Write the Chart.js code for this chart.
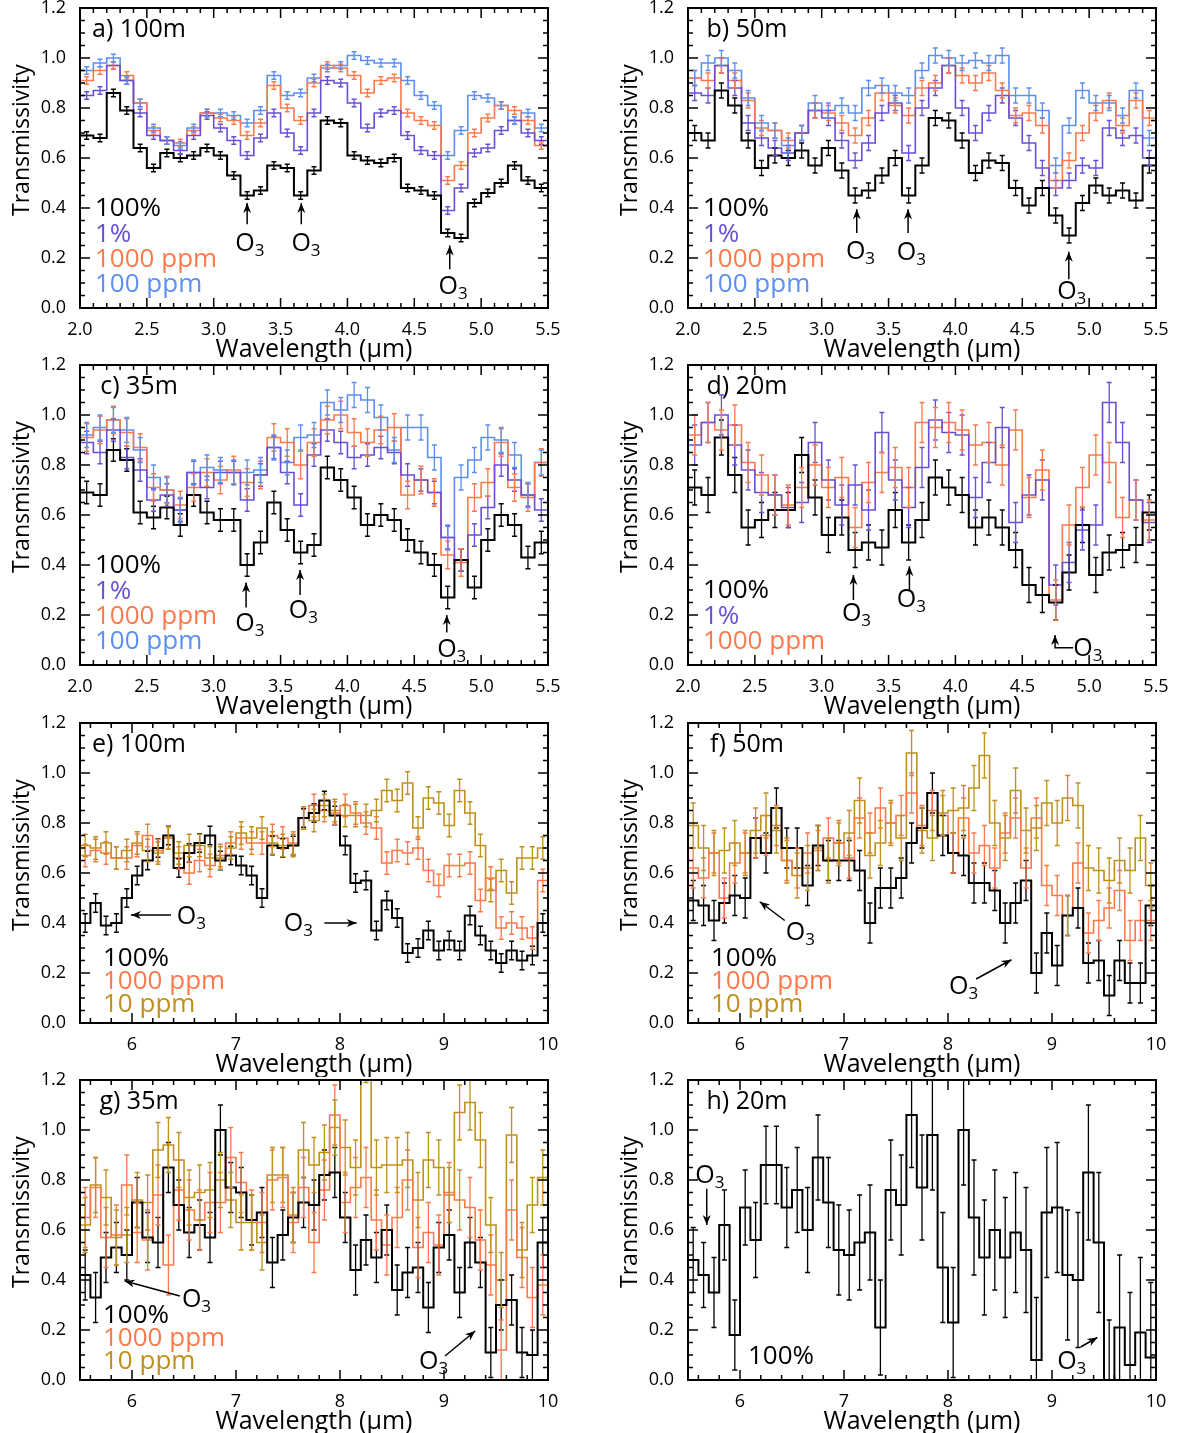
<!DOCTYPE html>
<html>
<head>
<meta charset="utf-8">
<script src="https://cdn.jsdelivr.net/npm/chart.js@4.4.0/dist/chart.umd.min.js"></script>
<style>
html, body { margin: 0; padding: 0; background: #fff; overflow: hidden; }
#page { position: relative; width: 1178px; height: 1433px; overflow: hidden; }
#page canvas { position: absolute; }
</style>
</head>
<body>
<div id="page"></div>
<script>
// bin centres (micron)
var wlShort = [2.05,2.15,2.25,2.35,2.45,2.55,2.65,2.75,2.85,2.95,3.05,3.15,3.25,3.35,3.45,3.55,3.65,3.75,3.85,3.95,
               4.05,4.15,4.25,4.35,4.45,4.55,4.65,4.75,4.85,4.95,5.05,5.15,5.25,5.35,5.45];
var wlLong = [5.55,5.65,5.75,5.85,5.95,6.05,6.15,6.25,6.35,6.45,6.55,6.65,6.75,6.85,6.95,7.05,7.15,7.25,7.35,7.45,
              7.55,7.65,7.75,7.85,7.95,8.05,8.15,8.25,8.35,8.45,8.55,8.65,8.75,8.85,8.95,9.05,9.15,9.25,9.35,9.45,
              9.55,9.65,9.75,9.85,9.95];

var yTicks = [0, 0.2, 0.4, 0.6, 0.8, 1.0, 1.2];

// a) 100m
var a100pct = [0.69,0.68,0.86,0.79,0.64,0.56,0.62,0.60,0.61,0.64,0.61,0.53,0.45,0.47,0.57,0.56,0.45,0.55,0.75,0.74,
               0.61,0.59,0.58,0.60,0.48,0.47,0.45,0.30,0.28,0.42,0.46,0.50,0.57,0.51,0.48];
var a1pct = [0.85,0.87,0.97,0.91,0.78,0.69,0.67,0.63,0.69,0.77,0.72,0.67,0.61,0.68,0.78,0.70,0.63,0.78,0.91,0.90,
             0.82,0.72,0.78,0.79,0.69,0.63,0.61,0.39,0.48,0.62,0.64,0.71,0.75,0.70,0.67];
var a1000ppm = [0.91,0.95,0.97,0.93,0.82,0.71,0.67,0.66,0.71,0.78,0.76,0.75,0.69,0.74,0.89,0.80,0.75,0.90,0.97,0.96,
                0.93,0.86,0.91,0.92,0.78,0.75,0.73,0.51,0.57,0.70,0.76,0.81,0.79,0.75,0.65];
var a100ppm = [0.95,0.98,1.00,0.91,0.82,0.72,0.67,0.65,0.72,0.78,0.78,0.77,0.74,0.79,0.93,0.85,0.86,0.92,0.96,0.97,
               1.01,0.99,0.98,0.98,0.91,0.85,0.81,0.61,0.71,0.85,0.84,0.81,0.75,0.78,0.72];

// b) 50m
var b100pct = [0.70,0.67,0.87,0.81,0.67,0.56,0.61,0.60,0.63,0.57,0.64,0.55,0.45,0.47,0.53,0.60,0.45,0.57,0.76,0.75,
               0.67,0.54,0.59,0.58,0.48,0.41,0.48,0.37,0.29,0.42,0.49,0.45,0.47,0.43,0.57];
var b1pct = [0.86,0.85,0.97,0.88,0.74,0.68,0.64,0.62,0.70,0.79,0.76,0.67,0.59,0.66,0.78,0.82,0.62,0.80,0.88,0.97,
             0.80,0.70,0.78,0.85,0.76,0.66,0.56,0.48,0.51,0.57,0.56,0.72,0.68,0.69,0.60];
var b1000ppm = [0.92,0.91,0.97,0.91,0.83,0.72,0.71,0.67,0.70,0.79,0.78,0.74,0.69,0.76,0.86,0.81,0.77,0.88,0.90,0.97,
                0.93,0.90,0.94,0.87,0.77,0.78,0.73,0.51,0.59,0.70,0.78,0.83,0.73,0.83,0.76];
var b100ppm = [0.92,0.98,1.00,0.95,0.84,0.74,0.71,0.65,0.70,0.82,0.79,0.81,0.78,0.88,0.89,0.86,0.85,0.95,1.01,1.00,
               0.98,0.99,0.98,1.01,0.85,0.85,0.79,0.57,0.73,0.87,0.82,0.82,0.77,0.87,0.68];

// c) 35m
var c100pct = [0.69,0.68,0.86,0.82,0.61,0.59,0.63,0.56,0.68,0.61,0.58,0.58,0.40,0.49,0.65,0.54,0.45,0.48,0.79,0.74,
               0.67,0.56,0.60,0.58,0.50,0.45,0.40,0.27,0.42,0.31,0.50,0.60,0.56,0.43,0.49];
var c1pct = [0.89,0.85,0.94,0.83,0.78,0.66,0.68,0.62,0.77,0.71,0.77,0.77,0.66,0.76,0.87,0.77,0.64,0.84,0.94,0.89,
             0.83,0.84,0.87,0.85,0.76,0.74,0.69,0.51,0.42,0.52,0.63,0.80,0.74,0.68,0.62];
var c1000ppm = [0.91,0.94,0.98,0.93,0.87,0.71,0.70,0.64,0.71,0.77,0.74,0.78,0.73,0.76,0.91,0.89,0.80,0.89,0.98,1.00,
                0.93,0.89,0.94,0.95,0.68,0.74,0.69,0.44,0.41,0.67,0.73,0.89,0.71,0.67,0.81];
var c100ppm = [0.92,0.95,0.98,0.94,0.86,0.75,0.70,0.62,0.77,0.79,0.78,0.77,0.77,0.78,0.87,0.81,0.91,0.92,1.05,1.02,
               1.08,1.06,0.99,0.86,0.95,0.95,0.83,0.51,0.75,0.82,0.91,0.90,0.84,0.68,0.81];

// d) 20m
var d100pct = [0.71,0.68,0.91,0.76,0.55,0.58,0.62,0.62,0.84,0.67,0.52,0.59,0.46,0.49,0.47,0.62,0.49,0.58,0.75,0.71,
               0.68,0.55,0.59,0.55,0.46,0.32,0.28,0.25,0.37,0.56,0.36,0.45,0.46,0.48,0.61];
var d1pct = [0.88,0.97,1.00,0.88,0.78,0.69,0.68,0.63,0.65,0.89,0.74,0.64,0.72,0.62,0.93,0.74,0.63,0.79,0.98,0.93,
             0.92,0.67,0.81,0.95,0.57,0.68,0.74,0.32,0.41,0.54,0.56,1.05,0.89,0.66,0.57];
var d1000ppm = [0.92,0.97,0.94,0.96,0.81,0.76,0.68,0.64,0.71,0.80,0.71,0.75,0.55,0.73,0.77,0.79,0.71,0.97,0.95,0.97,
                0.94,0.88,0.89,0.80,0.94,0.67,0.78,0.26,0.56,0.71,0.84,0.81,0.59,0.66,0.58];

// e) 100m
var e100pct = [0.40,0.48,0.39,0.40,0.50,0.59,0.65,0.70,0.75,0.62,0.68,0.72,0.75,0.65,0.67,0.63,0.59,0.50,0.71,0.70,
               0.71,0.82,0.84,0.89,0.83,0.71,0.56,0.57,0.37,0.49,0.42,0.28,0.30,0.37,0.29,0.33,0.29,0.43,0.35,0.29,
               0.24,0.29,0.25,0.27,0.40];
var e1000ppm = [0.67,0.69,0.68,0.66,0.66,0.71,0.75,0.69,0.74,0.66,0.60,0.65,0.63,0.67,0.72,0.74,0.72,0.72,0.75,0.74,
                0.72,0.82,0.87,0.85,0.84,0.87,0.84,0.80,0.78,0.64,0.69,0.68,0.70,0.61,0.55,0.63,0.63,0.64,0.49,0.58,
                0.38,0.40,0.38,0.34,0.57];
var e10ppm = [0.71,0.70,0.72,0.66,0.69,0.72,0.69,0.68,0.74,0.68,0.71,0.71,0.66,0.66,0.70,0.76,0.74,0.78,0.72,0.71,
              0.71,0.82,0.81,0.87,0.85,0.83,0.83,0.83,0.85,0.93,0.89,0.96,0.78,0.90,0.88,0.79,0.93,0.84,0.71,0.53,
              0.61,0.52,0.66,0.66,0.70];

// f) 50m
var f100pct = [0.49,0.47,0.41,0.48,0.51,0.50,0.74,0.68,0.86,0.70,0.70,0.55,0.71,0.65,0.65,0.65,0.61,0.40,0.54,0.54,
               0.58,0.72,0.78,0.92,0.75,0.68,0.67,0.56,0.56,0.53,0.40,0.48,0.57,0.20,0.36,0.23,0.43,0.46,0.24,0.25,
               0.11,0.25,0.16,0.16,0.47];
var f1000ppm = [0.62,0.58,0.68,0.50,0.64,0.68,0.74,0.75,0.79,0.65,0.62,0.68,0.69,0.74,0.72,0.66,0.82,0.76,0.86,0.80,
                0.83,0.92,0.79,0.85,0.83,0.68,0.82,0.68,0.71,0.62,0.76,0.82,0.62,0.82,0.55,0.51,0.43,0.64,0.36,0.41,
                0.46,0.53,0.33,0.41,0.41];
var f10ppm = [0.79,0.70,0.68,0.69,0.72,0.68,0.77,0.83,0.77,0.65,0.59,0.62,0.70,0.65,0.72,0.76,0.89,0.67,0.72,0.80,
              0.74,1.08,0.77,0.74,0.84,0.85,0.86,0.94,1.07,0.80,0.74,0.93,0.77,0.78,0.88,0.80,0.90,0.87,0.62,0.61,
              0.57,0.65,0.61,0.74,0.55];

// g) 35m
var g100pct = [0.42,0.33,0.49,0.53,0.50,0.71,0.57,0.55,0.85,0.70,0.59,0.62,0.57,1.00,0.77,0.75,0.64,0.67,0.47,0.58,
               0.65,0.71,0.70,0.82,0.83,0.65,0.44,0.56,0.49,0.60,0.36,0.43,0.45,0.29,0.53,0.58,0.35,0.55,0.47,0.11,
               0.30,0.32,0.11,0.10,0.55];
var g1000ppm = [0.65,0.77,0.57,0.58,0.78,0.59,0.56,0.74,0.46,0.76,0.68,0.64,0.71,0.71,0.89,0.79,0.64,0.63,0.80,0.81,
                0.63,0.77,0.55,0.76,1.06,0.71,0.77,0.81,0.64,0.54,0.65,0.80,0.53,0.59,0.54,0.75,0.72,0.69,0.56,0.46,
                0.12,0.68,0.49,0.33,0.38];
var g10ppm = [0.62,0.78,0.73,0.57,0.58,0.72,0.71,0.92,0.94,0.88,0.73,0.75,0.76,0.80,0.72,0.63,0.63,0.55,0.82,0.82,
              0.66,0.92,0.86,0.91,1.01,0.93,0.85,1.30,0.85,0.86,0.86,0.88,0.72,0.88,0.85,0.74,1.07,1.11,0.96,0.62,
              0.40,0.98,0.52,0.70,0.81];

// h) 20m
var h100pct = [0.48,0.42,0.35,0.62,0.18,0.69,0.56,0.86,0.86,0.69,0.76,0.60,0.89,0.71,0.52,0.50,0.55,0.59,0.21,0.76,
               0.70,1.06,0.77,0.98,0.45,0.23,1.00,0.65,0.49,0.60,0.49,0.59,0.52,0.08,0.67,0.69,0.42,0.40,0.83,0.55,
               -0.04,0.21,0.06,0.19,0.09];
var h100pctErr = [0.13,0.13,0.14,0.14,0.14,0.15,0.15,0.155,0.155,0.16,0.17,0.17,0.17,0.18,0.18,0.18,0.19,0.19,0.19,0.20,
                  0.20,0.21,0.21,0.22,0.22,0.22,0.22,0.23,0.23,0.24,0.24,0.24,0.25,0.25,0.26,0.26,0.26,0.27,0.27,0.28,
                  0.28,0.29,0.29,0.30,0.30];

var COLORS = {
    black: '#000000',
    purple: '#6a4fd6',
    orange: '#fb7a4b',
    blue: '#5b8ff0',
    gold: '#c0901c'
};

var FONT = '"Open Sans", "Noto Sans", sans-serif';
var CANVAS_H = 362;

var legendShort = ['100%', '1%', '1000 ppm', '100 ppm'];
var legendLong = ['100%', '1000 ppm', '10 ppm'];

var panels = [
    {
        canvasId: 'panelA', left: 0, top: 0, width: 589, padRight: 41,
        label: 'a) 100m', wl: wlShort, xRange: [2, 5.5], xStep: 0.5, xMinor: 0.1, xDigits: 1,
        series: [
            {values: a100pct, color: 'black', err: 0.015},
            {values: a1pct, color: 'purple', err: 0.015},
            {values: a1000ppm, color: 'orange', err: 0.015},
            {values: a100ppm, color: 'blue', err: 0.015}
        ],
        legend: {labels: legendShort, colors: ['black', 'purple', 'orange', 'blue'], x: 15, y: 201, dy: 25.3},
        o3: [
            {at: [3.27, 0.255], path: [[3.25, 0.335], [3.25, 0.42]]},
            {at: [3.69, 0.255], path: [[3.655, 0.335], [3.655, 0.42]]},
            {at: [4.79, 0.085], path: [[4.765, 0.155], [4.765, 0.25]]}
        ]
    },
    {
        canvasId: 'panelB', left: 608, top: 0, width: 570, padRight: 22,
        label: 'b) 50m', wl: wlShort, xRange: [2, 5.5], xStep: 0.5, xMinor: 0.1, xDigits: 1,
        series: [
            {values: b100pct, color: 'black', err: 0.03},
            {values: b1pct, color: 'purple', err: 0.03},
            {values: b1000ppm, color: 'orange', err: 0.03},
            {values: b100ppm, color: 'blue', err: 0.03}
        ],
        legend: {labels: legendShort, colors: ['black', 'purple', 'orange', 'blue'], x: 15, y: 201, dy: 25.3},
        o3: [
            {at: [3.29, 0.225], path: [[3.262, 0.3], [3.262, 0.395]]},
            {at: [3.67, 0.22], path: [[3.646, 0.3], [3.646, 0.395]]},
            {at: [4.87, 0.065], path: [[4.848, 0.115], [4.848, 0.225]]}
        ]
    },
    {
        canvasId: 'panelC', left: 0, top: 357, width: 589, padRight: 41,
        label: 'c) 35m', wl: wlShort, xRange: [2, 5.5], xStep: 0.5, xMinor: 0.1, xDigits: 1,
        series: [
            {values: c100pct, color: 'black', err: 0.045},
            {values: c1pct, color: 'purple', err: 0.045},
            {values: c1000ppm, color: 'orange', err: 0.055},
            {values: c100ppm, color: 'blue', err: 0.05}
        ],
        legend: {labels: legendShort, colors: ['black', 'purple', 'orange', 'blue'], x: 15, y: 201, dy: 25.3},
        o3: [
            {at: [3.27, 0.165], path: [[3.242, 0.23], [3.242, 0.33]]},
            {at: [3.67, 0.215], path: [[3.646, 0.28], [3.646, 0.38]]},
            {at: [4.78, 0.06], path: [[4.743, 0.13], [4.743, 0.2]]}
        ]
    },
    {
        canvasId: 'panelD', left: 608, top: 357, width: 570, padRight: 22,
        label: 'd) 20m', wl: wlShort, xRange: [2, 5.5], xStep: 0.5, xMinor: 0.1, xDigits: 1,
        series: [
            {values: d100pct, color: 'black', err: 0.07},
            {values: d1pct, color: 'purple', err: 0.08},
            {values: d1000ppm, color: 'orange', err: 0.08}
        ],
        legend: {labels: ['100%', '1%', '1000 ppm'], colors: ['black', 'purple', 'orange'], x: 15, y: 226, dy: 25.3},
        o3: [
            {at: [3.26, 0.205], path: [[3.237, 0.26], [3.237, 0.36]]},
            {at: [3.67, 0.26], path: [[3.656, 0.3], [3.656, 0.395]]},
            {at: [4.99, 0.065], path: [[4.88, 0.069], [4.745, 0.069], [4.745, 0.12]]}
        ]
    },
    {
        canvasId: 'panelE', left: 0, top: 715, width: 589, padRight: 41,
        label: 'e) 100m', wl: wlLong, xRange: [5.5, 10], xStep: 1, xMinor: 0.2, xDigits: 0,
        series: [
            {values: e100pct, color: 'black', err: 0.037},
            {values: e1000ppm, color: 'orange', err: 0.045},
            {values: e10ppm, color: 'gold', err: 0.045}
        ],
        legend: {labels: legendLong, colors: ['black', 'orange', 'gold'], x: 23, y: 236, dy: 23},
        o3: [
            {at: [6.57, 0.425], path: [[6.375, 0.432], [5.99, 0.432]]},
            {at: [7.6, 0.395], path: [[7.85, 0.4], [8.16, 0.4]]}
        ]
    },
    {
        canvasId: 'panelF', left: 608, top: 715, width: 570, padRight: 22,
        label: 'f) 50m', wl: wlLong, xRange: [5.5, 10], xStep: 1, xMinor: 0.2, xDigits: 0,
        series: [
            {values: f100pct, color: 'black', err: 0.08},
            {values: f1000ppm, color: 'orange', err: 0.08},
            {values: f10ppm, color: 'gold', err: 0.09}
        ],
        legend: {labels: legendLong, colors: ['black', 'orange', 'gold'], x: 23, y: 236, dy: 23},
        o3: [
            {at: [6.58, 0.36], path: [[6.43, 0.41], [6.19, 0.485]]},
            {at: [8.15, 0.145], path: [[8.27, 0.176], [8.61, 0.253]]}
        ]
    },
    {
        canvasId: 'panelG', left: 0, top: 1072, width: 589, padRight: 41,
        label: 'g) 35m', wl: wlLong, xRange: [5.5, 10], xStep: 1, xMinor: 0.2, xDigits: 0,
        series: [
            {values: g100pct, color: 'black', err: 0.1},
            {values: g1000ppm, color: 'orange', err: 0.12},
            {values: g10ppm, color: 'gold', err: 0.11}
        ],
        legend: {labels: legendLong, colors: ['black', 'orange', 'gold'], x: 23, y: 236, dy: 23},
        o3: [
            {at: [6.62, 0.32], path: [[6.46, 0.336], [5.93, 0.396]]},
            {at: [8.9, 0.072], path: [[9.01, 0.096], [9.3, 0.196]]}
        ]
    },
    {
        canvasId: 'panelH', left: 608, top: 1072, width: 570, padRight: 22,
        label: 'h) 20m', wl: wlLong, xRange: [5.5, 10], xStep: 1, xMinor: 0.2, xDigits: 0,
        series: [
            {values: h100pct, color: 'black', err: h100pctErr}
        ],
        legend: {labels: ['100%'], colors: ['black'], x: 60, y: 277, dy: 23},
        o3: [
            {at: [5.71, 0.815], path: [[5.68, 0.765], [5.68, 0.62]]},
            {at: [9.19, 0.072], path: [[9.275, 0.132], [9.436, 0.17]]}
        ]
    }
];

Chart.defaults.font.family = FONT;
Chart.defaults.color = '#000';

function errAt(err, i) {
    return Array.isArray(err) ? err[i] : err;
}

// error bars, drawn with the chart's own scales
var errorBarPlugin = {
    id: 'errorBars',
    afterDatasetsDraw: function (chart) {
        var ctx = chart.ctx, xs = chart.scales.x, ys = chart.scales.y, area = chart.chartArea;
        ctx.save();
        ctx.beginPath();
        ctx.rect(area.left, area.top, area.right - area.left, area.bottom - area.top);
        ctx.clip();
        chart.data.datasets.forEach(function (ds) {
            ctx.strokeStyle = ds.borderColor;
            ctx.lineWidth = 1.3;
            for (var i = 0; i < ds.centers.length; i++) {
                var e = errAt(ds.err, i);
                var px = xs.getPixelForValue(ds.centers[i]);
                var y1 = ys.getPixelForValue(ds.values[i] - e);
                var y2 = ys.getPixelForValue(ds.values[i] + e);
                ctx.beginPath();
                ctx.moveTo(px, y1); ctx.lineTo(px, y2);
                ctx.moveTo(px - 2.5, y1); ctx.lineTo(px + 2.5, y1);
                ctx.moveTo(px - 2.5, y2); ctx.lineTo(px + 2.5, y2);
                ctx.stroke();
            }
        });
        ctx.restore();
    }
};

// IDL style box with inward ticks on all four sides
var boxPlugin = {
    id: 'box',
    afterDraw: function (chart) {
        var o = chart.options.plugins.box;
        var ctx = chart.ctx, a = chart.chartArea, xs = chart.scales.x, ys = chart.scales.y;
        var i, v, p, len, major;
        ctx.save();
        ctx.strokeStyle = '#000';
        ctx.lineWidth = 2;
        ctx.strokeRect(a.left, a.top, a.right - a.left, a.bottom - a.top);
        ctx.lineWidth = 1.5;
        ctx.beginPath();
        for (i = Math.ceil(xs.min / o.xMinor - 1e-6); i <= Math.floor(xs.max / o.xMinor + 1e-6); i++) {
            v = i * o.xMinor;
            major = Math.abs(v / o.xStep - Math.round(v / o.xStep)) < 1e-6;
            len = major ? 10 : 5;
            p = xs.getPixelForValue(v);
            ctx.moveTo(p, a.bottom); ctx.lineTo(p, a.bottom - len);
            ctx.moveTo(p, a.top); ctx.lineTo(p, a.top + len);
        }
        for (i = 0; i <= 24; i++) {
            v = i * 0.05;
            major = i % 4 === 0;
            len = major ? 10 : 5;
            p = ys.getPixelForValue(v);
            ctx.moveTo(a.left, p); ctx.lineTo(a.left + len, p);
            ctx.moveTo(a.right, p); ctx.lineTo(a.right - len, p);
        }
        ctx.stroke();
        ctx.restore();
    }
};

function drawO3(ctx, x, y) {
    ctx.font = '25px ' + FONT;
    var wO = ctx.measureText('O').width;
    ctx.font = '17px ' + FONT;
    var w3 = ctx.measureText('3').width;
    var x0 = x - (wO + w3) / 2;
    ctx.textAlign = 'left';
    ctx.textBaseline = 'middle';
    ctx.font = '25px ' + FONT;
    ctx.fillText('O', x0, y);
    ctx.font = '17px ' + FONT;
    ctx.fillText('3', x0 + wO, y + 7);
}

function drawArrowPath(ctx, pts) {
    ctx.beginPath();
    ctx.moveTo(pts[0][0], pts[0][1]);
    for (var i = 1; i < pts.length; i++) {
        ctx.lineTo(pts[i][0], pts[i][1]);
    }
    ctx.stroke();
    var p1 = pts[pts.length - 2], p2 = pts[pts.length - 1];
    var ang = Math.atan2(p2[1] - p1[1], p2[0] - p1[0]);
    ctx.beginPath();
    ctx.moveTo(p2[0], p2[1]);
    ctx.lineTo(p2[0] - 10 * Math.cos(ang) + 4 * Math.sin(ang), p2[1] - 10 * Math.sin(ang) - 4 * Math.cos(ang));
    ctx.lineTo(p2[0] - 7 * Math.cos(ang), p2[1] - 7 * Math.sin(ang));
    ctx.lineTo(p2[0] - 10 * Math.cos(ang) - 4 * Math.sin(ang), p2[1] - 10 * Math.sin(ang) + 4 * Math.cos(ang));
    ctx.closePath();
    ctx.fill();
}

// panel label, coloured legend text and O3 markers
var notesPlugin = {
    id: 'notes',
    afterDraw: function (chart) {
        var o = chart.options.plugins.notes;
        var ctx = chart.ctx, a = chart.chartArea, xs = chart.scales.x, ys = chart.scales.y;
        ctx.save();
        ctx.fillStyle = '#000';
        ctx.font = '25px ' + FONT;
        ctx.textAlign = 'center';
        ctx.textBaseline = 'middle';
        ctx.fillText(o.label, a.left + 59, a.top + 22);

        ctx.font = '26px ' + FONT;
        ctx.textAlign = 'left';
        o.legend.labels.forEach(function (txt, i) {
            ctx.fillStyle = COLORS[o.legend.colors[i]];
            ctx.fillText(txt, a.left + o.legend.x, a.top + o.legend.y + i * o.legend.dy);
        });

        ctx.fillStyle = '#000';
        ctx.strokeStyle = '#000';
        ctx.lineWidth = 1.5;
        o.o3.forEach(function (m) {
            drawO3(ctx, xs.getPixelForValue(m.at[0]), ys.getPixelForValue(m.at[1]));
            drawArrowPath(ctx, m.path.map(function (pt) {
                return [xs.getPixelForValue(pt[0]), ys.getPixelForValue(pt[1])];
            }));
        });
        ctx.restore();
    }
};

function buildDataset(panel, s) {
    var n = s.values.length;
    var pts = [{x: panel.xRange[0], y: s.values[0]}];
    for (var i = 0; i < n; i++) {
        pts.push({x: panel.wl[i], y: s.values[i]});
    }
    pts.push({x: panel.xRange[1], y: s.values[n - 1]});
    return {
        data: pts,
        centers: panel.wl,
        values: s.values,
        err: s.err,
        borderColor: COLORS[s.color],
        borderWidth: s.color === 'black' ? 2 : 1.6,
        pointRadius: 0,
        stepped: 'middle',
        fill: false
    };
}

function buildPanel(panel) {
    var canvas = document.createElement('canvas');
    canvas.id = panel.canvasId;
    canvas.width = panel.width;
    canvas.height = CANVAS_H;
    canvas.style.left = panel.left + 'px';
    canvas.style.top = panel.top + 'px';
    canvas.style.width = panel.width + 'px';
    canvas.style.height = CANVAS_H + 'px';
    document.getElementById('page').appendChild(canvas);

    new Chart(canvas, {
        type: 'line',
        data: {
            datasets: panel.series.map(function (s) { return buildDataset(panel, s); })
        },
        plugins: [errorBarPlugin, boxPlugin, notesPlugin],
        options: {
            responsive: false,
            animation: false,
            devicePixelRatio: 1,
            layout: {padding: {top: 8, right: panel.padRight, left: 0, bottom: 0}},
            plugins: {
                legend: {display: false},
                tooltip: {enabled: false},
                box: {xStep: panel.xStep, xMinor: panel.xMinor},
                notes: {label: panel.label, legend: panel.legend, o3: panel.o3}
            },
            scales: {
                x: {
                    type: 'linear',
                    min: panel.xRange[0],
                    max: panel.xRange[1],
                    grid: {display: false},
                    border: {display: false},
                    ticks: {
                        stepSize: panel.xStep,
                        autoSkip: false,
                        maxRotation: 0,
                        padding: 3,
                        font: {size: 18},
                        color: '#000',
                        callback: function (v) {
                            if (panel.xDigits === 0) {
                                return Number.isInteger(v) ? String(v) : '';
                            }
                            return Number(v).toFixed(panel.xDigits);
                        }
                    },
                    title: {
                        display: true,
                        text: 'Wavelength (μm)',
                        font: {size: 25, lineHeight: 1},
                        color: '#000',
                        padding: {top: 0, bottom: 0}
                    },
                    afterFit: function (s) {
                        s.height = CANVAS_H - 308;
                        s.paddingLeft = 0;
                        s.paddingRight = 0;
                    }
                },
                y: {
                    min: 0,
                    max: 1.2,
                    grid: {display: false},
                    border: {display: false},
                    afterBuildTicks: function (s) {
                        s.ticks = yTicks.map(function (v) { return {value: v}; });
                    },
                    ticks: {
                        padding: 6,
                        font: {size: 18},
                        color: '#000',
                        callback: function (v) { return Number(v).toFixed(1); }
                    },
                    title: {
                        display: true,
                        text: '      Transmissivity',
                        font: {size: 23, lineHeight: 1},
                        color: '#000',
                        padding: {top: 11, bottom: 0}
                    },
                    afterFit: function (s) {
                        s.width = 80;
                        s.paddingTop = 0;
                        s.paddingBottom = 0;
                    }
                }
            }
        }
    });
}

panels.forEach(buildPanel);
</script>
</body>
</html>
